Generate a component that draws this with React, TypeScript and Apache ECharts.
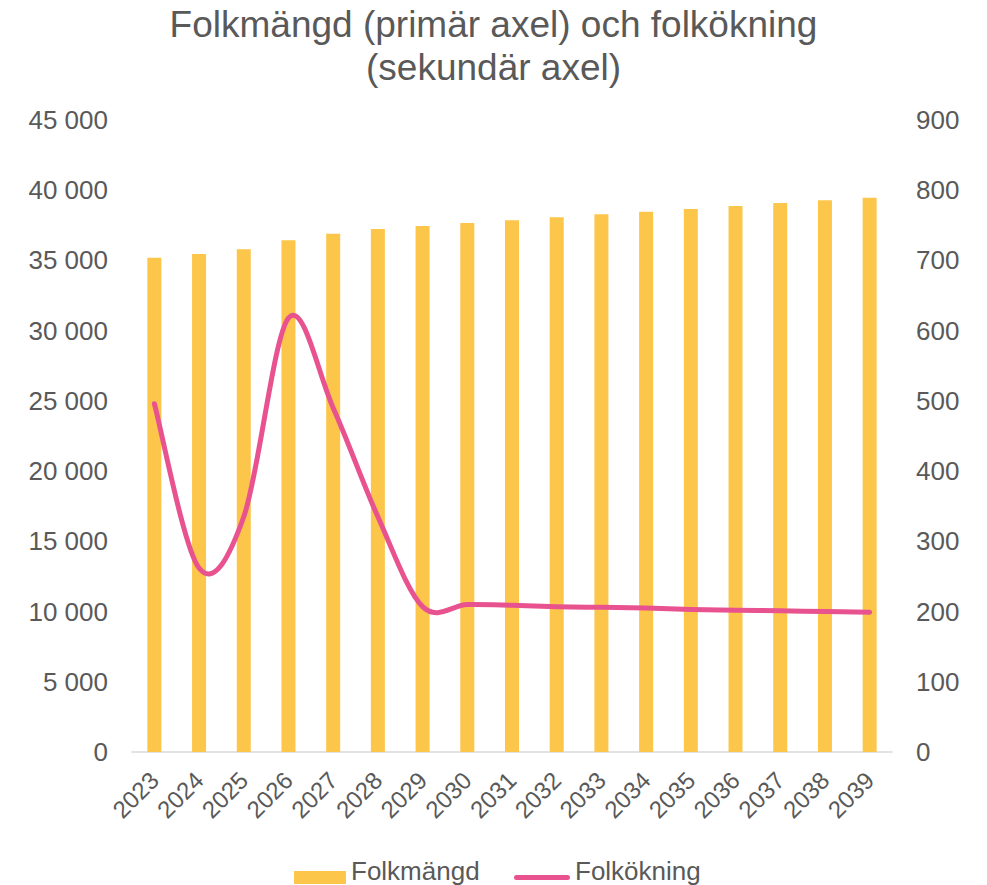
import React, { useEffect, useRef } from "react";
import * as echarts from "echarts";

const years = ["2023","2024","2025","2026","2027","2028","2029","2030","2031","2032","2033","2034","2035","2036","2037","2038","2039"];
const folkmangd = [35195, 35459, 35794, 36434, 36905, 37239, 37453, 37666, 37866, 38072, 38286, 38471, 38663, 38877, 39090, 39282, 39468];
const folkokning = [496, 262, 335, 618, 490, 335, 207, 210, 209, 207, 206, 205, 203, 202, 201, 200, 199];

const TEXT = "#595959";
const FONT = "'Liberation Sans', Arial, sans-serif";
const LINE = "#E8538F";
const BAR = "#FCC64B";

function fmt(v: number): string {
  return String(v).replace(/\B(?=(\d{3})+(?!\d))/g, " ");
}

// Smooth (Catmull-Rom style) curve through all points, positioned via the axes' scales
function renderSmooth(params: any, api: any) {
  if (params.dataIndex !== 0) return { type: "group", children: [] };
  const pts = folkokning.map((v, i) => api.coord([i, v]));
  let d = `M${pts[0][0]},${pts[0][1]}`;
  for (let i = 0; i < pts.length - 1; i++) {
    const p0 = pts[i - 1] || pts[i];
    const p1 = pts[i];
    const p2 = pts[i + 1];
    const p3 = pts[i + 2] || pts[i + 1];
    const c1x = p1[0] + (p2[0] - p0[0]) / 6;
    const c1y = p1[1] + (p2[1] - p0[1]) / 6;
    const c2x = p2[0] - (p3[0] - p1[0]) / 6;
    const c2y = p2[1] - (p3[1] - p1[1]) / 6;
    d += ` C${c1x},${c1y} ${c2x},${c2y} ${p2[0]},${p2[1]}`;
  }
  return {
    type: "path",
    shape: { pathData: d },
    style: { fill: "none", stroke: LINE, lineWidth: 5, lineCap: "round", lineJoin: "round" },
  };
}

export default function App() {
  const ref = useRef<HTMLDivElement>(null);
  useEffect(() => {
    document.body.style.margin = "0";
    const chart = echarts.init(ref.current!, null, { renderer: "svg" });
    chart.setOption({
      animation: false,
      backgroundColor: "#ffffff",
      textStyle: { fontFamily: FONT, color: TEXT },
      title: {
        text: "Folkmängd (primär axel) och folkökning\n(sekundär axel)",
        left: "center",
        top: -2,
        textStyle: { fontFamily: FONT, fontSize: 37, fontWeight: "normal", color: TEXT, lineHeight: 43 },
      },
      legend: [
        {
          left: 289,
          top: 852,
          itemWidth: 52,
          itemHeight: 27,
          itemGap: 0,
          textStyle: { fontFamily: FONT, fontSize: 26, color: TEXT },
          data: [{ name: "Folkmängd", icon: "path://M0,0 M0,27 M0,14 L52,14 L52,27 L0,27 Z", itemStyle: { color: BAR } }],
        },
        {
          left: 509,
          top: 852,
          itemWidth: 56,
          itemHeight: 27,
          itemGap: 0,
          textStyle: { fontFamily: FONT, fontSize: 26, color: TEXT },
          data: [{ name: "Folkökning", icon: "path://M0,0 M0,27 M2.5,18 L53.5,18 A2.5,2.5 0 0 1 53.5,23 L2.5,23 A2.5,2.5 0 0 1 2.5,18 Z M56,27", itemStyle: { color: LINE } }],
        },
      ],
      grid: { left: 132, right: 95, top: 120, bottom: 133, containLabel: false, outerBoundsMode: "none" },
      xAxis: {
        type: "category",
        data: years,
        axisTick: { show: false },
        axisLine: { lineStyle: { color: "#D9D9D9", width: 1.5 } },
        axisLabel: { rotate: 45, fontSize: 24, color: TEXT, fontFamily: FONT, margin: 24, interval: 0 },
      },
      yAxis: [
        {
          type: "value",
          min: 0,
          max: 45000,
          interval: 5000,
          axisLine: { show: false },
          axisTick: { show: false },
          splitLine: { show: false },
          axisLabel: { fontSize: 26, color: TEXT, fontFamily: FONT, margin: 24, formatter: (v: number) => fmt(v) },
        },
        {
          type: "value",
          min: 0,
          max: 900,
          interval: 100,
          position: "right",
          axisLine: { show: false },
          axisTick: { show: false },
          splitLine: { show: false },
          axisLabel: { fontSize: 26, color: TEXT, fontFamily: FONT, margin: 24, formatter: (v: number) => fmt(v) },
        },
      ],
      series: [
        {
          name: "Folkmängd",
          type: "bar",
          data: folkmangd,
          barWidth: 14,
          itemStyle: { color: BAR },
        },
        {
          name: "Folkökning",
          type: "custom",
          coordinateSystem: "cartesian2d",
          yAxisIndex: 1,
          data: folkokning.map((v, i) => [i, v]),
          encode: { x: 0, y: 1 },
          renderItem: renderSmooth,
          itemStyle: { color: LINE },
          clip: false,
          z: 3,
        },
      ],
    });
    return () => chart.dispose();
  }, []);
  return <div ref={ref} style={{ width: 987, height: 885 }} />;
}
